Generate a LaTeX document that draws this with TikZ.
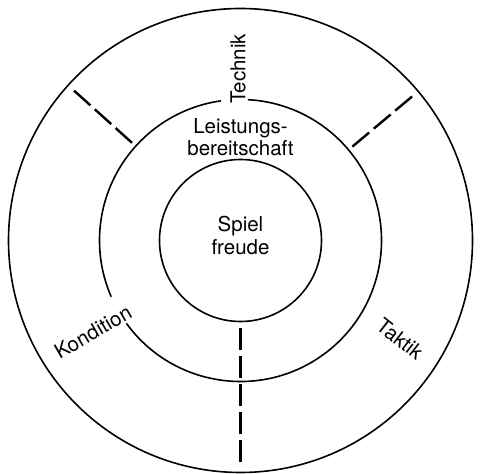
\documentclass[tikz,border=0pt]{standalone}
\usepackage{fontspec}
\setmainfont{TeX Gyre Heros}
\usetikzlibrary{calc}
\begin{document}
\begin{tikzpicture}[x=1pt,y=1pt,
  ring/.style={line width=1.6pt},
  spoke/.style={line width=2.4pt, dash pattern=on 22pt off 6pt},
  lab/.style={font=\fontsize{20.5}{22.5}\selectfont, inner sep=0pt, align=center}]
\useasboundingbox (0,0) rectangle (481,473);
\coordinate (C) at (240.5,232.5);
% rings
\draw[ring] (C) circle[radius=232];
\draw[ring] (C) circle[radius=81];
\draw[ring] ($(C)+(98:141)$) arc[start angle=98, end angle=203.5, radius=141];
\draw[ring] ($(C)+(216:141)$) arc[start angle=216, end angle=447, radius=141];
% spokes
\coordinate (ulo) at ($(C)+(138:224)$);
\coordinate (uli) at ($(C)+(138:146)$);
\coordinate (uro) at ($(C)+(40:224)$);
\coordinate (uri) at ($(C)+(40:146)$);
\coordinate (bi) at ($(C)+(270:88)$);
\coordinate (bo) at ($(C)+(270:222)$);
\draw[spoke] (ulo) -- (uli);
\draw[spoke] (uro) -- (uri);
\draw[spoke] (bi) -- (bo);
% labels
\node[lab] (spiel) at (240.5,237.3) {Spiel\\freude};
\node[lab] (leist) at (240.5,335.9) {Leistungs-\\bereitschaft};
\node[lab, rotate=90] (technik) at (238,404) {Technik};
\node[lab, rotate=30] (kondition) at (93,141) {Kondition};
\node[lab, rotate=-38] (taktik) at (400,134) {Taktik};
\end{tikzpicture}
\end{document}
